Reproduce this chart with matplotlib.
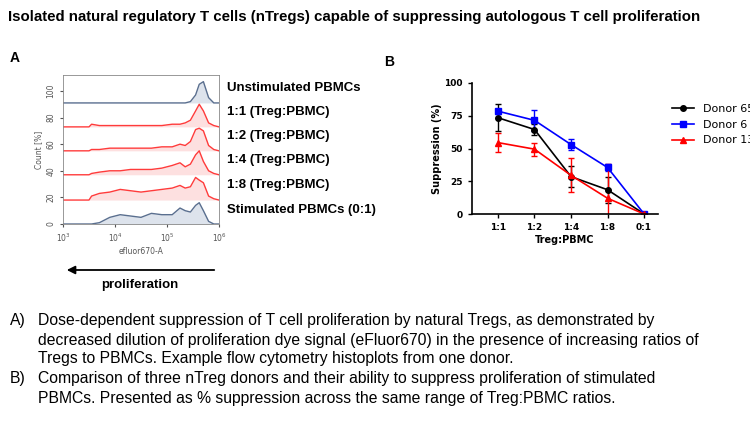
import matplotlib
matplotlib.use("Agg")
import matplotlib.pyplot as plt
from matplotlib.lines import Line2D
import numpy as np

# ---- panel A: histogram traces (log10 fluorescence grid, count heights)
log_x = [3.5, 3.55, 3.7, 3.9, 4.1, 4.3, 4.5, 4.7, 4.9, 5.1, 5.25, 5.35, 5.45, 5.55, 5.62, 5.7, 5.8, 5.9, 6.0]
trace_names = ["Unstimulated PBMCs", "1:1 (Treg:PBMC)", "1:2 (Treg:PBMC)",
               "1:4 (Treg:PBMC)", "1:8 (Treg:PBMC)", "Stimulated PBMCs (0:1)"]
trace_base = [91, 73, 55, 37, 18, 0]
h_unstim = [0, 0, 0, 0, 0, 0, 0, 0, 0, 0, 0, 0, 1, 6, 14, 16, 4, 0, 0]
h_11 = [0, 2, 1, 1, 1, 1, 1, 1, 1, 2, 2, 3, 5, 12, 17, 12, 3, 1, 0]
h_12 = [0, 1, 1, 2, 2, 2, 2, 2, 3, 3, 5, 4, 7, 16, 17, 15, 4, 1, 0]
h_14 = [0, 1, 2, 3, 3, 4, 4, 4, 5, 7, 9, 6, 8, 15, 18, 10, 3, 1, 0]
h_18 = [0, 3, 5, 6, 8, 7, 6, 7, 8, 9, 11, 9, 10, 17, 15, 13, 3, 1, 0]
h_stim = [0, 0, 1, 5, 7, 6, 5, 8, 7, 7, 12, 10, 9, 14, 16, 10, 2, 0, 0]
trace_heights = [h_unstim, h_11, h_12, h_14, h_18, h_stim]
trace_colors = ["#5a6f8f", "#ff3b3b", "#ff3b3b", "#ff3b3b", "#ff3b3b", "#5a6f8f"]
trace_fills = ["#dde3ec", "#fde0e0", "#fde0e0", "#fde0e0", "#fde0e0", "#dde3ec"]

# ---- panel B: suppression
ratios = ["1:1", "1:2", "1:4", "1:8", "0:1"]
donor65 = [73.5, 64.5, 28.5, 18.5, 0]
donor65_err = [10.5, 4.5, 8, 10, 0]
donor6 = [78.5, 71.5, 53, 35.5, 0]
donor6_err = [2, 8, 4.5, 2.5, 0]
donor135 = [54.5, 49.5, 29.5, 12, 0]
donor135_err = [7.5, 5, 13, 26, 0]

W, H = 750, 424
fig = plt.figure(figsize=(7.5, 4.24), dpi=100)
FONT = "Liberation Sans"


def px(x, y):
    return x / W, 1 - y / H


fig.text(*px(8, 17), "Isolated natural regulatory T cells (nTregs) capable of suppressing autologous T cell proliferation",
         fontsize=10.8, fontweight="bold", family=FONT, va="center")
fig.text(*px(10, 58), "A", fontsize=10, fontweight="bold", family=FONT, va="center")
fig.text(*px(384, 62), "B", fontsize=10, fontweight="bold", family=FONT, va="center")

# panel A
axA = fig.add_axes([63 / W, 1 - 224 / H, 156 / W, 149 / H])
x = 10 ** np.array(log_x)
for base, hts, c, fc in zip(trace_base, trace_heights, trace_colors, trace_fills):
    y = base + np.array(hts)
    xx = np.concatenate([[1e3], x])
    yy = np.concatenate([[base], y])
    axA.fill_between(xx, base, yy, color=fc, lw=0)
    axA.plot(xx, yy, color=c, lw=1)
axA.set_xscale("log")
axA.set_xlim(1e3, 1e6)
axA.set_ylim(0, 112)
axA.set_yticks([0, 20, 40, 60, 80, 100])
axA.set_xticks([1e3, 1e4, 1e5, 1e6])
axA.tick_params(labelsize=5.5, colors="#555555", length=2)
for lab in axA.get_yticklabels():
    lab.set_rotation(90)
    lab.set_va("center")
axA.minorticks_off()
axA.set_xlabel("efluor670-A", fontsize=5.5, color="#555555", labelpad=2)
axA.set_ylabel("Count [%]", fontsize=5.5, color="#555555", labelpad=2)
for s in axA.spines.values():
    s.set_color("#888888")
    s.set_linewidth(0.6)

for name, yp in zip(trace_names, [88, 112, 136, 160, 185, 210]):
    fig.text(*px(227, yp), name, fontsize=9.5, fontweight="bold", family=FONT, va="center")

fig.patches.append(matplotlib.patches.FancyArrowPatch(
    px(217, 270), px(64, 270), transform=fig.transFigure, arrowstyle="-|>",
    mutation_scale=12, color="black", lw=1.3))
fig.text(*px(140, 285), "proliferation", fontsize=9.5, fontweight="bold", family=FONT,
         ha="center", va="center")

# panel B
axB = fig.add_axes([472 / W, 1 - 214 / H, 186 / W, 131 / H])
xi = np.arange(len(ratios))
handles = []
for vals, err, c, m, lab in [(donor65, donor65_err, "black", "o", "Donor 65"),
                             (donor6, donor6_err, "#0000ff", "s", "Donor 6"),
                             (donor135, donor135_err, "#ff0000", "^", "Donor 135")]:
    axB.errorbar(xi, vals, yerr=err, color=c, marker=m, ms=4, lw=1.2,
                 capsize=2.5, elinewidth=1)
    handles.append(Line2D([], [], color=c, marker=m, ms=4, lw=1.2, label=lab))
axB.set_xlim(-0.71, 4.38)
axB.set_ylim(0, 100)
axB.set_yticks([0, 25, 50, 75, 100])
axB.set_xticks(xi)
axB.set_xticklabels(ratios)
axB.tick_params(labelsize=6.5, length=3, width=1)
for lab in axB.get_xticklabels() + axB.get_yticklabels():
    lab.set_fontweight("bold")
axB.set_xlabel("Treg:PBMC", fontsize=7, fontweight="bold", labelpad=2)
axB.set_ylabel("Suppression (%)", fontsize=7, fontweight="bold", labelpad=2)
axB.spines[["top", "right"]].set_visible(False)
axB.spines[["left", "bottom"]].set_linewidth(1.2)
axB.legend(handles=handles, loc="center left", bbox_to_anchor=(1.02, 0.68), frameon=False,
           fontsize=8, handlelength=2, labelspacing=0.5)

# captions
cap = [(10, 320, "A)"), (38, 320, "Dose-dependent suppression of T cell proliferation by natural Tregs, as demonstrated by"),
       (38, 340, "decreased dilution of proliferation dye signal (eFluor670) in the presence of increasing ratios of"),
       (38, 358, "Tregs to PBMCs. Example flow cytometry histoplots from one donor."),
       (10, 379, "B)"), (38, 379, "Comparison of three nTreg donors and their ability to suppress proliferation of stimulated"),
       (38, 398, "PBMCs. Presented as % suppression across the same range of Treg:PBMC ratios.")]
for cx, cy, t in cap:
    fig.text(*px(cx, cy), t, fontsize=11.3, family=FONT, va="center")

fig.savefig("out.png", dpi=100)
